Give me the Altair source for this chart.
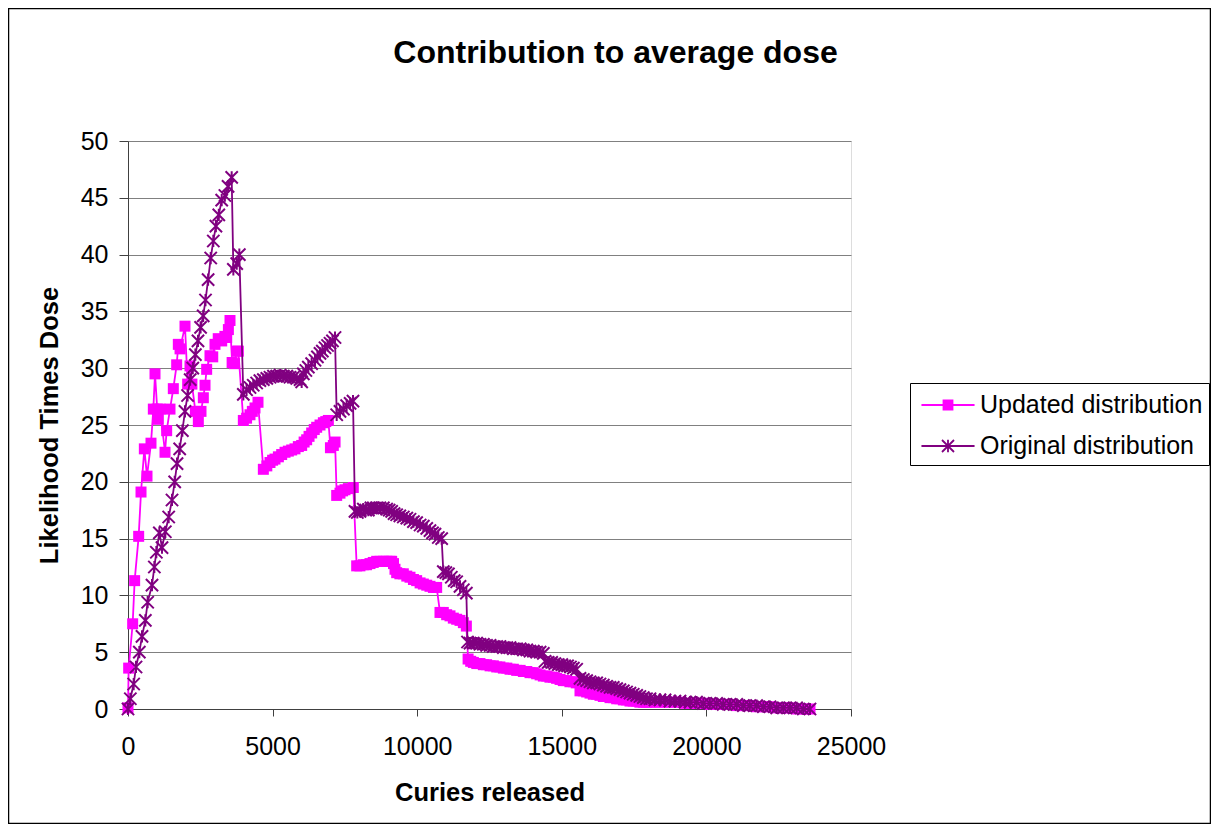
import altair as alt
import pandas as pd

# ---------------- data ----------------
upd_x = [0, 23, 161, 230, 369, 450, 565, 657, 795, 876, 934, 1010, 1049, 1107, 1280, 1337,
         1452, 1567, 1683, 1740, 1800, 1971, 2063, 2144, 2210, 2330, 2432, 2524, 2605, 2663,
         2720, 2835, 2930, 3008, 3120, 3240, 3350, 3413, 3471, 3527, 3600, 3680, 3758, 3816,
         3988, 4100, 4218, 4300, 4391, 4495, 4680, 4800, 4910, 5000, 5083, 5200, 5314, 5430,
         5544, 5660, 5774, 5890, 6005, 6090, 6178, 6260, 6351, 6440, 6524, 6640, 6755, 6840,
         6928, 7000, 7100, 7160, 7216, 7330, 7420, 7503, 7620, 7791, 7907, 8020, 8137, 8250,
         8368, 8480, 8598, 8713, 8829, 8950, 9060, 9117, 9180, 9232, 9290, 9400, 9520, 9640,
         9751, 9870, 9981, 10100, 10212, 10330, 10442, 10560, 10673, 10788, 10903, 11018, 11134,
         11249, 11365, 11480, 11596, 11700, 11760, 11850, 11942, 12060, 12170, 12287, 12400,
         12520, 12633, 12750, 12860, 12979, 13100, 13210, 13325, 13440, 13560, 13671, 13790,
         13900, 14016, 14130, 14250, 14362, 14480, 14590, 14707, 14820, 14940, 15052, 15170,
         15280, 15398, 15500, 15629, 15745, 15860, 15975, 16090, 16206, 16320, 16436, 16550,
         16667, 16780, 16897, 17010, 17128, 17240, 17358, 17470, 17589, 17700, 17819, 17930,
         18050, 18220, 18396, 18570, 18741, 18910, 19087, 19260, 19433, 19660, 19894, 20120,
         20355, 20580, 20816, 21050, 21277, 21500, 21738, 21970, 22199, 22430, 22660, 22890,
         23121, 23350, 23582]
upd_y = [0.1, 3.6, 7.5, 11.3, 15.2, 19.1, 22.9, 20.5, 23.4, 26.4, 29.5, 26.4, 25.5, 26.4, 22.6, 24.5,
         26.4, 28.2, 30.3, 32.1, 31.7, 33.7, 28.6, 30.2, 28.6, 26.2, 25.3, 26.2, 27.4, 28.5,
         29.9, 31.1, 31.0, 32.1, 32.6, 32.4, 32.8, 32.7, 33.4, 34.2, 30.5, 30.4, 31.5, 31.5,
         25.4, 25.6, 25.9, 26.2, 26.5, 27.0, 21.1, 21.4, 21.7, 21.9, 22.0, 22.2, 22.4, 22.6,
         22.7, 22.8, 22.9, 23.1, 23.2, 23.5, 23.7, 24.0, 24.3, 24.6, 24.8, 25.0, 25.2, 25.3,
         25.4, 23.0, 23.2, 23.5, 18.8, 19.0, 19.2, 19.3, 19.4, 19.5, 12.6, 12.6, 12.7, 12.7,
         12.8, 12.9, 13.0, 13.0, 13.0, 13.0, 13.0, 13.0, 12.8, 12.3, 12.0, 11.9, 11.9, 11.7,
         11.6, 11.4, 11.3, 11.1, 11.0, 10.9, 10.8, 10.7, 10.7, 8.5, 8.5, 8.3, 8.2,
         8.0, 7.9, 7.8, 7.6, 7.3, 4.4, 4.2, 4.1, 4.0, 4.0, 3.9, 3.9,
         3.8, 3.8, 3.7, 3.7, 3.6, 3.6, 3.5, 3.5, 3.4, 3.4, 3.3, 3.3,
         3.2, 3.2, 3.1, 3.0, 2.9, 2.9, 2.8, 2.8, 2.7, 2.6, 2.5, 2.5,
         2.4, 2.4, 2.3, 1.6, 1.6, 1.5, 1.4, 1.3, 1.3, 1.2, 1.1, 1.1,
         1.0, 1.0, 0.9, 0.9, 0.8, 0.8, 0.7, 0.7, 0.7, 0.6, 0.6, 0.6,
         0.6, 0.6, 0.6, 0.6, 0.6, 0.6, 0.6, 0.5, 0.5, 0.5, 0.5, 0.4,
         0.4, 0.4, 0.4, 0.3, 0.3, 0.3, 0.2, 0.2, 0.2, 0.1, 0.1, 0.1,
         0.0, 0.0, 0.0]

orig_x = [0, 81, 196, 277, 392, 484, 600, 680, 830, 911, 980, 1084, 1176, 1291, 1407, 1522,
          1614, 1695, 1787, 1880, 1970, 2060, 2150, 2240, 2330, 2420, 2510, 2600, 2680, 2770,
          2860, 2950, 3040, 3140, 3240, 3350, 3460, 3585, 3643, 3760, 3850, 3988, 4100, 4218,
          4330, 4449, 4560, 4680, 4800, 4910, 5030, 5141, 5260, 5372, 5490, 5602, 5720, 5833,
          5950, 6005, 6063, 6150, 6236, 6350, 6466, 6550, 6639, 6720, 6812, 6900, 6985, 7070,
          7158, 7216, 7330, 7450, 7560, 7680, 7780, 7849, 7930, 8022, 8137, 8220, 8310, 8400,
          8483, 8600, 8713, 8830, 8944, 9030, 9117, 9200, 9290, 9400, 9520, 9640, 9751, 9870,
          9981, 10100, 10212, 10330, 10442, 10530, 10615, 10730, 10846, 10903, 10990, 11080,
          11180, 11280, 11365, 11480, 11596, 11700, 11740, 11826, 11940, 12057, 12170, 12287,
          12400, 12520, 12633, 12750, 12860, 12979, 13100, 13210, 13325, 13440, 13560, 13671,
          13790, 13900, 14016, 14130, 14250, 14362, 14420, 14530, 14650, 14760, 14880, 15000,
          15100, 15200, 15300, 15400, 15514, 15629, 15745, 15860, 15975, 16090, 16206, 16320,
          16436, 16550, 16667, 16780, 16897, 17010, 17128, 17240, 17358, 17470, 17589, 17700,
          17819, 17930, 18050, 18220, 18396, 18570, 18741, 18910, 19087, 19260, 19433, 19660,
          19894, 20120, 20355, 20580, 20816, 21050, 21277, 21500, 21738, 21970, 22199, 22430,
          22660, 22890, 23121, 23350, 23582]
orig_y = [0.0, 0.9, 2.2, 3.7, 5.0, 6.4, 7.8, 9.4, 10.9, 12.5, 13.8, 15.5, 14.2, 15.6, 16.9, 18.4,
          20.0, 21.6, 22.9, 24.5, 26.2, 27.6, 29.0, 30.0, 31.2, 32.4, 33.6, 34.6, 36.0, 37.8,
          39.7, 41.2, 42.5, 43.5, 44.8, 45.2, 46.0, 46.8, 38.7, 39.2, 40.0, 27.7, 28.1, 28.3,
          28.5, 28.7, 28.9, 29.0, 29.1, 29.2, 29.3, 29.3, 29.4, 29.3, 29.3, 29.2, 29.2, 29.1,
          29.0, 28.8, 29.5, 29.8, 30.1, 30.4, 30.7, 31.0, 31.3, 31.5, 31.8, 32.0, 32.2, 32.4,
          32.7, 25.9, 26.2, 26.4, 26.7, 26.9, 27.1, 17.4, 17.3, 17.4, 17.6, 17.5, 17.5, 17.7,
          17.7, 17.7, 17.7, 17.7, 17.6, 17.5, 17.4, 17.2, 17.1, 17.0, 16.9, 16.8, 16.7, 16.5,
          16.4, 16.2, 16.1, 15.9, 15.7, 15.5, 15.4, 15.1, 15.0, 12.1, 12.0, 11.9,
          11.6, 11.3, 11.2, 10.8, 10.5, 10.2, 5.9, 5.8, 5.8, 5.8, 5.7, 5.7,
          5.6, 5.6, 5.5, 5.5, 5.5, 5.4, 5.4, 5.4, 5.3, 5.3, 5.3, 5.2,
          5.2, 5.1, 5.1, 5.0, 5.0, 4.9, 4.2, 4.1, 4.1, 4.0, 3.9, 3.9,
          3.8, 3.8, 3.7, 3.6, 3.5, 2.7, 2.6, 2.5, 2.4, 2.3, 2.3, 2.2,
          2.1, 2.0, 1.9, 1.9, 1.8, 1.7, 1.6, 1.5, 1.4, 1.3, 1.2, 1.1,
          1.0, 0.9, 0.9, 0.8, 0.8, 0.8, 0.7, 0.7, 0.7, 0.6, 0.6, 0.6,
          0.5, 0.5, 0.5, 0.4, 0.4, 0.4, 0.3, 0.3, 0.3, 0.2, 0.2, 0.1,
          0.1, 0.1, 0.1, 0.0, 0.0]

SERIES = ["Updated distribution", "Original distribution"]
COLORS = ["#FF00FF", "#800080"]
X_TICKS = [0, 5000, 10000, 15000, 20000, 25000]
Y_TICKS = [0, 5, 10, 15, 20, 25, 30, 35, 40, 45, 50]

TITLE = "Contribution to average dose"
X_TITLE = "Curies released"
Y_TITLE = "Likelihood Times Dose"

# ---------------- styles ----------------
FONT = "Liberation Sans"
STAR = "M-1,-1L1,1M-1,1L1,-1M0,-1L0,1"
LEG_SQUARE = "M-1.77,0L1.77,0M-0.3,-0.3L0.3,-0.3L0.3,0.3L-0.3,0.3Z"
LEG_STAR = "M-1.77,0L1.77,0M-0.4,-0.4L0.4,0.4M-0.4,0.4L0.4,-0.4M0,-0.42L0,0.42"

W, H = 723, 568
PAD = {"left": 120, "top": 133, "right": 360, "bottom": 115}

df = pd.concat([
    pd.DataFrame({"curies": upd_x, "dose": upd_y, "series": SERIES[0],
                  "idx": list(range(len(upd_x)))}),
    pd.DataFrame({"curies": orig_x, "dose": orig_y, "series": SERIES[1],
                  "idx": list(range(len(orig_x)))}),
], ignore_index=True)

x_enc = alt.X("curies:Q", scale=alt.Scale(domain=[0, 25000], nice=False),
              axis=alt.Axis(values=X_TICKS, format="d", grid=False, title=X_TITLE,
                            tickSize=7, labelPadding=18, labelFlush=False,
                            labelFontSize=25, labelFont=FONT, labelColor="#000",
                            titleFont=FONT, titleFontSize=25.5, titleFontWeight="bold",
                            titleColor="#000", titlePadding=21,
                            domainColor="#404040", tickColor="#404040"))
y_enc = alt.Y("dose:Q", scale=alt.Scale(domain=[0, 50], nice=False),
              axis=alt.Axis(values=Y_TICKS, grid=True, gridColor="#808080", title=Y_TITLE,
                            tickSize=9, labelPadding=11, labelFlush=False,
                            labelFontSize=25, labelFont=FONT, labelColor="#000",
                            titleFont=FONT, titleFontSize=25.5, titleFontWeight="bold",
                            titleColor="#000", titlePadding=18,
                            domainColor="#404040", tickColor="#404040"))

base = alt.Chart(df)

def series_layers(name, color, point_mark):
    sub = base.transform_filter(alt.datum.series == name)
    line = sub.mark_line(color=color, strokeWidth=1.8).encode(
        x=x_enc, y=y_enc, order="idx:Q")
    pts = sub.mark_point(**point_mark).encode(x=x_enc, y=y_enc)
    return [line, pts]

upd_layers = series_layers(SERIES[0], COLORS[0],
                           dict(shape="square", filled=True, size=121, color=COLORS[0], opacity=1))
orig_layers = series_layers(SERIES[1], COLORS[1],
                            dict(shape=STAR, filled=False, size=150, strokeWidth=2,
                                 color=COLORS[1], opacity=1))

LEG = alt.Legend(title=None, orient="none", legendX=782, legendY=242,
                 symbolSize=900, symbolStrokeWidth=1.8, labelFontSize=25, labelFont=FONT,
                 labelColor="#000", padding=6, rowPadding=12, labelOffset=16,
                 symbolOffset=16, strokeColor="#000", fillColor="#fff", labelLimit=400)

legend_layer = base.transform_filter("false").mark_point(filled=True, opacity=1).encode(
    x=x_enc, y=y_enc,
    fill=alt.Fill("series:N", scale=alt.Scale(domain=SERIES, range=COLORS), legend=LEG),
    stroke=alt.Stroke("series:N", scale=alt.Scale(domain=SERIES, range=COLORS), legend=LEG),
    shape=alt.Shape("series:N", scale=alt.Scale(domain=SERIES, range=[LEG_SQUARE, LEG_STAR]),
                    legend=LEG),
)

frame = alt.Chart(pd.DataFrame({"k": [0]})).mark_rect(
    fill="transparent", stroke="#000", strokeWidth=1.5).encode(
    x=alt.value(-119.5), x2=alt.value(1082.5), y=alt.value(-132.5), y2=alt.value(682.5))

chart = alt.layer(frame, *upd_layers, *orig_layers, legend_layer).properties(
    width=W, height=H,
    padding=PAD,
    autosize=alt.AutoSizeParams(type="none"),
    title=alt.Title(TITLE, font=FONT, fontSize=32, fontWeight="bold", color="#000",
                    anchor="middle", baseline="top", offset=0, dy=62, dx=126),
).configure_view(stroke="#808080", strokeWidth=1).configure(background="white")

chart.save("out.html", embed_options={"renderer": "svg", "actions": False})
